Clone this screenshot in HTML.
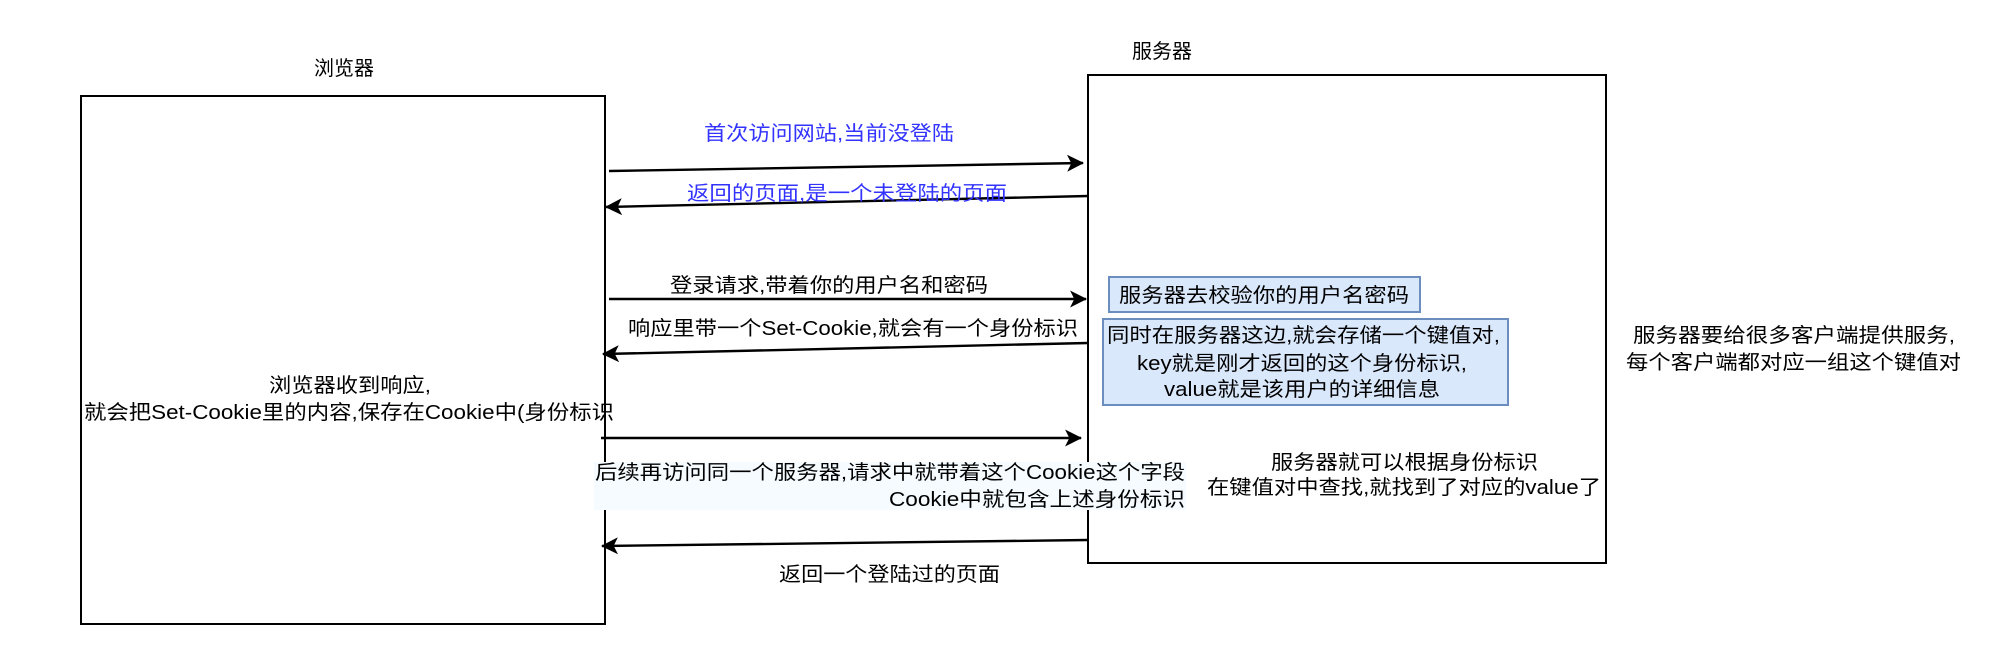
<!DOCTYPE html>
<html><head><meta charset="utf-8"><style>
html,body{margin:0;padding:0;background:#fff;}
svg{display:block;}
text{font-family:"Liberation Sans","Noto Sans CJK SC",sans-serif;font-size:20px;fill:#000;}
</style></head><body>
<svg width="1998" height="650" viewBox="0 0 1998 650" xmlns="http://www.w3.org/2000/svg">
<defs>
<marker id="a" viewBox="0 0 16 16" refX="15" refY="8" markerWidth="17" markerHeight="17" markerUnits="userSpaceOnUse" orient="auto">
<path d="M0,0 L16,8 L0,16 L4,8 Z" fill="#000"/></marker>
</defs>
<rect x="81" y="96" width="524" height="528" fill="#fff" stroke="#000" stroke-width="2"/>
<rect x="1088" y="75" width="518" height="488" fill="#fff" stroke="#000" stroke-width="2"/>
<text x="344" y="75" text-anchor="middle">浏览器</text>
<text x="1162" y="58" text-anchor="middle">服务器</text>

<g stroke="#000" stroke-width="2.4" fill="none">
<line x1="609" y1="171" x2="1083" y2="163" marker-end="url(#a)"/>
<line x1="1088" y1="196" x2="606" y2="207" marker-end="url(#a)"/>
<line x1="609" y1="299" x2="1086" y2="299" marker-end="url(#a)"/>
<line x1="1088" y1="343" x2="603" y2="354" marker-end="url(#a)"/>
<line x1="601" y1="438" x2="1081" y2="438" marker-end="url(#a)"/>
<line x1="1088" y1="540" x2="602" y2="546" marker-end="url(#a)"/>
</g>

<text x="704" y="140" style="fill:#3333ff" textLength="250" lengthAdjust="spacingAndGlyphs">首次访问网站,当前没登陆</text>
<text x="687" y="200" style="fill:#3333ff" textLength="320" lengthAdjust="spacingAndGlyphs">返回的页面,是一个未登陆的页面</text>
<text x="670" y="292" textLength="318" lengthAdjust="spacingAndGlyphs">登录请求,带着你的用户名和密码</text>
<rect x="626" y="316" width="454" height="24" fill="#fff"/>
<text x="628" y="335" textLength="450" lengthAdjust="spacingAndGlyphs">响应里带一个Set-Cookie,就会有一个身份标识</text>

<text x="269" y="392" textLength="162" lengthAdjust="spacingAndGlyphs">浏览器收到响应,</text>
<text x="84" y="419" textLength="530" lengthAdjust="spacingAndGlyphs">就会把Set-Cookie里的内容,保存在Cookie中(身份标识</text>

<rect x="594" y="462" width="592" height="48" fill="#f5fbff"/>
<text x="595" y="479" textLength="590" lengthAdjust="spacingAndGlyphs">后续再访问同一个服务器,请求中就带着这个Cookie这个字段</text>
<text x="889" y="506" textLength="296" lengthAdjust="spacingAndGlyphs">Cookie中就包含上述身份标识</text>
<text x="779" y="581" textLength="221" lengthAdjust="spacingAndGlyphs">返回一个登陆过的页面</text>

<rect x="1109" y="277" width="311" height="35" fill="#dae8fc" stroke="#6c8ebf" stroke-width="2"/>
<text x="1119" y="302" textLength="290" lengthAdjust="spacingAndGlyphs">服务器去校验你的用户名密码</text>
<rect x="1103" y="319" width="405" height="86" fill="#dae8fc" stroke="#6c8ebf" stroke-width="2"/>
<text x="1107" y="342" textLength="393" lengthAdjust="spacingAndGlyphs">同时在服务器这边,就会存储一个键值对,</text>
<text x="1137" y="370" textLength="330" lengthAdjust="spacingAndGlyphs">key就是刚才返回的这个身份标识,</text>
<text x="1164" y="396" textLength="276" lengthAdjust="spacingAndGlyphs">value就是该用户的详细信息</text>

<text x="1271" y="469" textLength="267" lengthAdjust="spacingAndGlyphs">服务器就可以根据身份标识</text>
<text x="1207" y="494" textLength="394" lengthAdjust="spacingAndGlyphs">在键值对中查找,就找到了对应的value了</text>

<text x="1633" y="342" textLength="322" lengthAdjust="spacingAndGlyphs">服务器要给很多客户端提供服务,</text>
<text x="1626" y="369" textLength="335" lengthAdjust="spacingAndGlyphs">每个客户端都对应一组这个键值对</text>
</svg>
</body></html>
